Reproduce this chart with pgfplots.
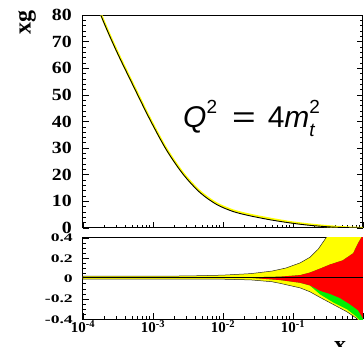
\documentclass[border=0pt]{standalone}
\usepackage{fontspec}
\setmainfont{Liberation Serif}
\newfontfamily\annot{Liberation Sans}
\usepackage{pgfplots}
\pgfplotsset{compat=1.18}
\definecolor{byellow}{RGB}{255,255,0}
\definecolor{bred}{RGB}{255,0,0}
\definecolor{bgreen}{RGB}{0,240,0}
\pgfplotsset{
  mycommon/.style={scale only axis, width=280pt, xmin=1e-4, xmax=1,
    xtick={1e-4,1e-3,1e-2,1e-1,1},
    axis line style={black, line width=1pt},
    major tick length=6pt, minor tick length=3pt,
    tick style={black, line width=0.6pt},
    xtick pos=bottom, ytick pos=both, tick align=inside,
    /pgf/number format/assume math mode=true, clip=true}
}
\begin{document}
\begin{tikzpicture}
\path[use as bounding box] (0,0) rectangle (364pt,347pt);
\begin{semilogxaxis}[mycommon, at={(83pt,119pt)}, anchor=south west, height=213pt,
  ymin=0, ymax=80, ytick={0,10,...,80}, minor y tick num=4,
  xticklabels={},
  yticklabel style={font=\bfseries\fontsize{18}{18}\selectfont, anchor=east, inner sep=0pt, xshift=-11pt},
  yticklabel={\scalebox{1.1}[0.95]{\pgfmathprintnumber{\tick}}}]
\addplot[byellow, line width=2.2pt, smooth] coordinates {
(1e-4,98) (1.82e-4,80) (2.99e-4,67.0) (5.18e-4,54.0) (8.97e-4,41.3) (1.55e-3,29.8)
(2.69e-3,20.6) (4.65e-3,13.8) (8.02e-3,9.3) (1.39e-2,6.6) (2.40e-2,5.0) (4.68e-2,3.5)
(9.12e-2,2.2) (0.174,1.3) (0.339,0.6) (0.646,0.15) (1,0.0)};
\addplot[black, line width=0.9pt, smooth] coordinates {
(1e-4,97.6) (1.82e-4,79.6) (2.99e-4,66.6) (5.18e-4,53.6) (8.97e-4,40.9) (1.55e-3,29.4)
(2.69e-3,20.2) (4.65e-3,13.4) (8.02e-3,8.9) (1.39e-2,6.2) (2.40e-2,4.6) (4.68e-2,3.1)
(9.12e-2,1.9) (0.174,1.0) (0.339,0.4) (0.646,0.1) (1,0.0)};
\end{semilogxaxis}
\begin{semilogxaxis}[mycommon, at={(83pt,27.6pt)}, anchor=south west, height=81.4pt,
  ymin=-0.4, ymax=0.4, ytick={-0.4,-0.2,0,0.2,0.4}, minor y tick num=3,
  xticklabels={{\textbf{10}\textsuperscript{\textbf{-4}}},{\textbf{10}\textsuperscript{\textbf{-3}}},{\textbf{10}\textsuperscript{\textbf{-2}}},{\textbf{10}\textsuperscript{\textbf{-1}}},{}},
  xticklabel style={font=\fontsize{15}{15}\selectfont, inner sep=0pt, yshift=-1pt},
  yticklabel style={font=\bfseries\fontsize{16}{16}\selectfont, anchor=east, inner sep=0pt, xshift=-10pt},
  yticklabel={\scalebox{1.1}[0.72]{\pgfmathprintnumber{\tick}}}]
\addplot[fill=byellow, draw=black!85, line width=0.5pt] coordinates {
(1e-4,0.025) (1e-3,0.025) (3.16e-3,0.027) (1e-2,0.035) (2.51e-2,0.05) (5.01e-2,0.075)
(7.94e-2,0.105) (0.126,0.155) (0.174,0.21) (0.229,0.29) (0.295,0.4) (0.398,0.55) (1,1.0)
(1,-0.47) (0.813,-0.39) (0.589,-0.325) (0.38,-0.255) (0.245,-0.185) (0.174,-0.128)
(0.126,-0.09) (6.46e-2,-0.045) (5.01e-2,-0.03) (2.51e-2,-0.012) (1e-2,-0.005)
(1e-3,-0.003) (1e-4,-0.003)} -- cycle;
\addplot[fill=bgreen, draw=none] coordinates {
(1e-4,0.014) (2.51e-2,0.014) (6.46e-2,0.02) (0.126,0.035) (0.174,0.06) (0.245,0.1)
(0.339,0.14) (0.513,0.18) (0.724,0.25) (0.851,0.35) (0.977,0.42) (1,0.5)
(1,-0.45) (0.813,-0.375) (0.589,-0.3) (0.38,-0.235) (0.245,-0.155) (0.174,-0.067)
(0.126,-0.04) (6.46e-2,-0.013) (2.51e-2,0.008) (1e-4,0.009)} -- cycle;
\addplot[fill=bred, draw=none] coordinates {
(1e-4,0.014) (2.51e-2,0.014) (6.46e-2,0.02) (0.126,0.035) (0.174,0.06) (0.245,0.1)
(0.339,0.14) (0.513,0.18) (0.724,0.25) (0.851,0.35) (0.977,0.42) (1,0.5)
(1,-0.39) (0.851,-0.31) (0.646,-0.25) (0.468,-0.19) (0.339,-0.15) (0.245,-0.12)
(0.174,-0.065) (0.126,-0.04) (6.46e-2,-0.013) (2.51e-2,0.008) (1e-4,0.009)} -- cycle;
\addplot[black, line width=0.8pt] coordinates {(1e-4,0.011) (1,0.011)};
\end{semilogxaxis}
\node[anchor=base west, inner sep=0pt] at (183pt,219.5pt) {\annot\fontsize{30}{32}\selectfont
  \textit{Q}\raisebox{0.45em}{\fontsize{19}{19}\selectfont 2}\hspace{15pt}\scalebox{1.35}[1]{=}\hspace{12pt}4\textit{m}\rlap{\raisebox{0.45em}{\fontsize{19}{19}\selectfont 2}}\raisebox{-0.3em}{\fontsize{19}{19}\selectfont\textit{t}}};
\node[rotate=90, inner sep=0pt] at (27pt,324pt) {\bfseries\fontsize{24}{24}\selectfont xg};
\node[anchor=base, inner sep=0pt] at (340pt,-6pt) {\bfseries\fontsize{24}{24}\selectfont x};
\end{tikzpicture}
\end{document}
